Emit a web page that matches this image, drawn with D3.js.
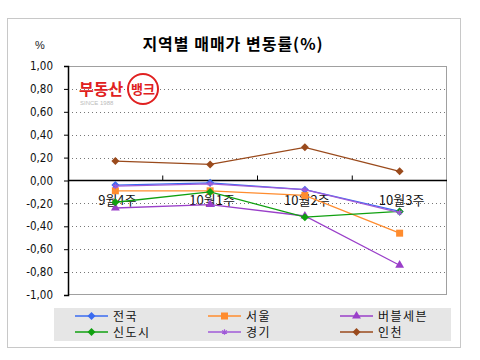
<!DOCTYPE html>
<html>
<head>
<meta charset="utf-8">
<script src="https://cdn.jsdelivr.net/npm/d3@7"></script>
<style>
  body { margin: 0; background: #fff; }
  svg { display: block; font-family: "Liberation Sans", "Noto Sans CJK KR", sans-serif; }
</style>
</head>
<body>
<div id="chart"></div>
<script>
//Datos
let categories = ['9월4주', '10월1주', '10월2주', '10월3주'];
let seriesNames = ['전국', '서울', '버블세븐', '신도시', '경기', '인천'];
let jeonguk = [-0.04, -0.02, -0.08, -0.27];
let seoul = [-0.09, -0.09, -0.13, -0.46];
let bubble = [-0.24, -0.21, -0.31, -0.74];
let sindosi = [-0.19, -0.10, -0.32, -0.27];
let gyeonggi = [-0.05, -0.03, -0.08, -0.28];
let incheon = [0.17, 0.14, 0.29, 0.08];
let yTicks = [1, 0.8, 0.6, 0.4, 0.2, 0, -0.2, -0.4, -0.6, -0.8, -1];

//Colores y marcadores
let colors = ['#3a6bf0', '#ff8c2e', '#9a3fc9', '#10a010', '#a05ad8', '#9a4a1c'];
let markers = ['diamond', 'square', 'triangle', 'diamond', 'star', 'diamond'];
let allValues = [jeonguk, seoul, bubble, sindosi, gyeonggi, incheon];

let series = seriesNames.map(function(name, i) {
    return { name: name, values: allValues[i], color: colors[i], marker: markers[i] };
});

let svg = d3.select('#chart').append('svg')
    .attr('width', 480)
    .attr('height', 360);

//Marco exterior
svg.append('rect')
    .attr('x', 7.5).attr('y', 18.5)
    .attr('width', 453).attr('height', 329)
    .attr('fill', '#fff')
    .attr('stroke', '#c8c8c8');

let margin = {top: 66, left: 68, right: 480 - 447, bottom: 360 - 295};
let width = 480 - margin.left - margin.right,
    height = 360 - margin.top - margin.bottom;

let chart = svg.append('g')
    .attr('transform', 'translate(' + margin.left + ',' + margin.top + ')');

//Escalas
let x = d3.scaleBand().domain(categories).range([0, width]);
let y = d3.scaleLinear().domain([-1, 1]).range([height, 0]);

//Titulo
svg.append('text')
    .attr('x', 233).attr('y', 50)
    .attr('text-anchor', 'middle')
    .style('font-size', '16px')
    .style('font-weight', 'bold')
    .style('letter-spacing', '1px')
    .style('font-family', '"Noto Sans CJK KR", sans-serif')
    .text('지역별 매매가 변동률(%)');

svg.append('text')
    .attr('x', 40).attr('y', 49)
    .attr('text-anchor', 'middle')
    .style('font-size', '11px')
    .attr('fill', '#222')
    .text('%');

//Rejilla
chart.selectAll('.grid')
    .data(yTicks.filter(function(d) { return d !== 0 && Math.abs(d) !== 1; }))
    .enter().append('line')
    .attr('x1', 0).attr('x2', width)
    .attr('y1', function(d) { return Math.round(y(d)) + 0.5; })
    .attr('y2', function(d) { return Math.round(y(d)) + 0.5; })
    .attr('stroke', '#777')
    .attr('stroke-dasharray', '1,3');

//Borde del area
chart.append('rect')
    .attr('x', 0.5).attr('y', 0.5)
    .attr('width', width - 1).attr('height', height - 1)
    .attr('fill', 'none')
    .attr('stroke', '#a0a0a0');

//Eje Y
let yAxis = function(g) {
    g.call(d3.axisLeft(y).tickValues(yTicks).tickSize(4).tickPadding(11)
        .tickFormat(function(d) { return d3.format('.2f')(d).replace('.', ',').replace('−', '-'); }));
    g.select('.domain').attr('stroke', '#000').attr('stroke-width', 1.5);
    g.selectAll('.tick line').attr('stroke', '#000');
    g.selectAll('.tick text').style('font-size', '11.5px').attr('fill', '#111')
        .style('font-family', '"DejaVu Sans Condensed", "Liberation Sans", sans-serif');
}
chart.append('g').call(yAxis);

//Etiquetas de categorias (debajo de las lineas)
chart.selectAll('.cat')
    .data(categories)
    .enter().append('text')
    .attr('x', function(d) { return x(d) + x.bandwidth() / 2 + 2; })
    .attr('y', y(0) + 24)
    .attr('text-anchor', 'middle')
    .style('font-size', '13px')
    .style('font-family', '"Noto Sans CJK KR", sans-serif')
    .attr('fill', '#111')
    .text(function(d) { return d; });

//Eje cero
chart.append('line')
    .attr('x1', 0).attr('x2', width)
    .attr('y1', y(0)).attr('y2', y(0))
    .attr('stroke', '#000').attr('stroke-width', 1.5);

chart.selectAll('.xtick')
    .data(categories.slice(1))
    .enter().append('line')
    .attr('x1', function(d) { return x(d); })
    .attr('x2', function(d) { return x(d); })
    .attr('y1', y(0) - 5).attr('y2', y(0))
    .attr('stroke', '#000');

//Simbolos
function drawMarker(g, s) {
    if (s.marker === 'star') {
        g.append('path').attr('d', d3.symbol().type(d3.symbolAsterisk).size(22)())
            .attr('fill', 'none').attr('stroke', s.color).attr('stroke-width', 1.2);
    } else if (s.marker === 'diamond') {
        g.append('path').attr('d', 'M0,-4L4,0L0,4L-4,0Z').attr('fill', s.color);
    } else if (s.marker === 'square') {
        g.append('rect').attr('x', -3.5).attr('y', -3.5).attr('width', 7).attr('height', 7).attr('fill', s.color);
    } else {
        g.append('path').attr('d', d3.symbol().type(d3.symbolTriangle).size(34)()).attr('fill', s.color);
    }
}

let line = d3.line()
    .x(function(d, i) { return x(categories[i]) + x.bandwidth() / 2; })
    .y(function(d) { return y(d); });

series.forEach(function(s) {
    chart.append('path')
        .datum(s.values)
        .attr('d', line)
        .attr('fill', 'none')
        .attr('stroke', s.color)
        .attr('stroke-width', 1.3);

    s.values.forEach(function(v, i) {
        let g = chart.append('g')
            .attr('transform', 'translate(' + (x(categories[i]) + x.bandwidth() / 2) + ',' + y(v) + ')');
        drawMarker(g, s);
    });
});

//Logo
let logo = svg.append('g').attr('transform', 'translate(79,95)');
logo.append('text')
    .attr('x', 0).attr('y', 0)
    .style('font-size', '16px').style('font-weight', 'bold')
    .style('font-family', '"Noto Sans CJK KR", sans-serif')
    .attr('fill', '#e02020')
    .text('부동산');
logo.append('circle')
    .attr('cx', 64).attr('cy', -6).attr('r', 15)
    .attr('fill', '#fff').attr('stroke', '#e02020').attr('stroke-width', 2);
logo.append('text')
    .attr('x', 64).attr('y', -1)
    .attr('text-anchor', 'middle')
    .style('font-size', '13px').style('font-weight', 'bold')
    .style('font-family', '"Noto Sans CJK KR", sans-serif')
    .attr('fill', '#e02020')
    .text('뱅크');
logo.append('text')
    .attr('x', 1).attr('y', 10)
    .style('font-size', '6px')
    .attr('fill', '#bbb')
    .text('SINCE 1988');

//Leyenda
let legend = svg.append('g');
legend.append('rect')
    .attr('x', 54).attr('y', 308)
    .attr('width', 397).attr('height', 33)
    .attr('fill', '#e6e6e6');

let legendX = [75, 208, 340];
let legendY = [316, 332];

series.forEach(function(s, i) {
    let lx = legendX[i % 3], ly = legendY[Math.floor(i / 3)];
    let item = legend.append('g').attr('transform', 'translate(' + lx + ',' + ly + ')');
    item.append('line')
        .attr('x1', 0).attr('x2', 33)
        .attr('stroke', s.color).attr('stroke-width', 1.3);
    let m = item.append('g').attr('transform', 'translate(16.5,0)');
    drawMarker(m, s);
    item.append('text')
        .attr('x', 38).attr('y', 4.5)
        .style('font-size', '12px')
        .style('letter-spacing', '1.5px')
        .style('font-family', '"Noto Sans CJK KR", sans-serif')
        .attr('fill', '#111')
        .text(s.name);
});
</script>
</body>
</html>
